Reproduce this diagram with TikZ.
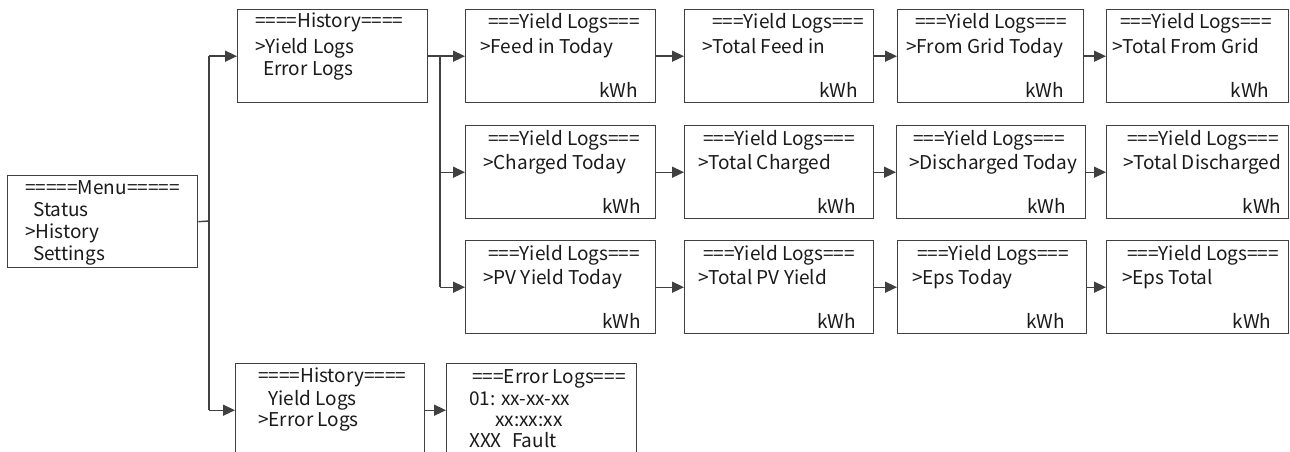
\documentclass[tikz,border=0pt]{standalone}
\usepackage{fontspec}
\setmainfont{Noto Sans CJK SC}
\usetikzlibrary{arrows.meta}
\definecolor{ln}{HTML}{404040}
\definecolor{tx}{HTML}{1A1A1A}
\tikzset{
  scr/.style={draw=ln,line width=1.4pt,fill=white,inner sep=0pt,minimum height=93pt},
  txt/.style={inner sep=0pt,anchor=base west,text=tx,font=\fontsize{19}{22}\selectfont},
  arr/.style={draw=ln,line width=1.4pt,-{Triangle[length=12pt,width=11pt]}},
  wire/.style={draw=ln,line width=1.4pt}
}
\newcommand\ylog[8]{%
  \node[scr,minimum width=#4pt,anchor=north west] (#1) at (#2,#3) {};
  \node[txt] (#1t) at ([shift={(#5,20)}]#1.north west) {===Yield Logs===};
  \node[txt] (#1l) at ([shift={(#6,44)}]#1.north west) {#7};
  \node[txt,anchor=base east] (#1k) at ([shift={(-#8,88)}]#1.north east) {kWh};
}
\begin{document}
\begin{tikzpicture}[x=1pt,y=-1pt]
\useasboundingbox (0,0) rectangle (1290,452);
\clip (0,0) rectangle (1290,452);
% menu
\node[scr,minimum width=190pt,minimum height=92pt,anchor=north west] (menu) at (7,175) {};
\node[txt] (m1) at ([shift={(18,19)}]menu.north west) {=====Menu=====};
\node[txt] (m2) at ([shift={(26,41)}]menu.north west) {Status};
\node[txt] (m3) at ([shift={(18,63)}]menu.north west) {>History};
\node[txt] (m4) at ([shift={(26,85)}]menu.north west) {Settings};
% history 1
\node[scr,minimum width=190pt,anchor=north west] (h1) at (237,9) {};
\node[txt] (h1a) at ([shift={(18,19)}]h1.north west) {====History====};
\node[txt] (h1b) at ([shift={(18,44)}]h1.north west) {>Yield Logs};
\node[txt] (h1c) at ([shift={(26,67)}]h1.north west) {Error Logs};
% history 2
\node[scr,minimum width=189pt,anchor=north west] (h2) at (235,363) {};
\node[txt] (h2a) at ([shift={(23,19)}]h2.north west) {====History====};
\node[txt] (h2b) at ([shift={(33,42)}]h2.north west) {Yield Logs};
\node[txt] (h2c) at ([shift={(23,63)}]h2.north west) {>Error Logs};
% error logs
\node[scr,minimum width=190pt,anchor=north west] (el) at (446,363) {};
\node[txt] (ela) at ([shift={(26,20)}]el.north west) {===Error Logs===};
\node[txt] (elb) at ([shift={(23,42)}]el.north west) {01: xx-xx-xx};
\node[txt] (elc) at ([shift={(49,63)}]el.north west) {xx:xx:xx};
\node[txt] (eld) at ([shift={(23,84)}]el.north west) {XXX};
\node[txt] (ele) at ([shift={(66,84)}]el.north west) {Fault};
% yield log rows
\ylog{b11}{465}{9}{190}{23}{15}{>Feed in Today}{18}
\ylog{b12}{684}{9}{189}{28}{18}{>Total Feed in}{16}
\ylog{b13}{897}{9}{186}{18}{9}{>From Grid Today}{20}
\ylog{b14}{1106}{9}{182}{14}{6}{>Total From Grid}{20}
\ylog{b21}{465}{125}{190}{23}{18}{>Charged Today}{15}
\ylog{b22}{684}{125}{189}{19}{14}{>Total Charged}{18}
\ylog{b23}{896}{125}{189}{17}{13}{>Discharged Today}{20}
\ylog{b24}{1106}{125}{182}{21}{17}{>Total Discharged}{8}
\ylog{b31}{465}{240}{190}{23}{18}{>PV Yield Today}{15}
\ylog{b32}{684}{240}{189}{19}{14}{>Total PV Yield}{18}
\ylog{b33}{897}{240}{189}{20}{15}{>Eps Today}{22}
\ylog{b34}{1106}{240}{182}{21}{16}{>Eps Total}{18}
% connectors
\coordinate (trunk) at (209,221);
\coordinate (br) at (440,57);
\draw[wire] (menu.east) -- (trunk);
\draw[wire] (trunk |- h1.west) -- (trunk |- h2.west);
\draw[arr] (trunk |- h1.west) -- (h1.west);
\draw[arr] (trunk |- h2.west) -- (h2.west);
\draw[arr] (h1.east) -- (b11.west);
\draw[wire] (br |- b11.west) -- (br |- b31.west);
\draw[arr] (br |- b21.west) -- (b21.west);
\draw[arr] (br |- b31.west) -- (b31.west);
\draw[arr] (b11.east) -- (b12.west);
\draw[arr] (b12.east) -- (b13.west);
\draw[arr] (b13.east) -- (b14.west);
\draw[arr] (b21.east) -- (b22.west);
\draw[arr] (b22.east) -- (b23.west);
\draw[arr] (b23.east) -- (b24.west);
\draw[arr] (b31.east) -- (b32.west);
\draw[arr] (b32.east) -- (b33.west);
\draw[arr] (b33.east) -- (b34.west);
\draw[arr] (h2.east) -- (el.west);
\end{tikzpicture}
\end{document}
